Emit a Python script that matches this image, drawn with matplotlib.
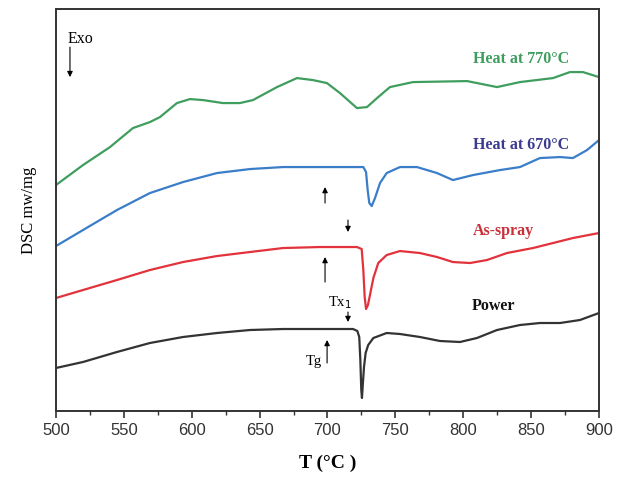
import numpy as np
import matplotlib.pyplot as plt
from matplotlib.ticker import MultipleLocator

# temperatures (°C) and DSC signal (arbitrary units, curves stacked) per sample
t_power = [500, 519.9, 544.9, 569.2, 593.6, 618.6, 642.9, 667.2, 694.5, 718.8,
           722, 723.4, 724.2, 724.9, 725.4, 726.1, 726.9, 728.1, 730, 733.8,
           743.6, 753.4, 768.1, 782.9, 797.6, 810.1, 824.9, 841.8, 856.5,
           871.3, 886, 900]
dsc_power = [43, 49, 59, 68, 74, 78, 81, 82, 82, 82,
             80, 74, 51, 21, 13, 28, 44, 58, 66, 73,
             78, 77, 74, 70, 69, 73, 81, 86, 88,
             88, 91, 98]

t_spray = [500, 519.9, 544.9, 569.2, 593.6, 618.6, 642.9, 667.2, 694.5, 721.7,
           725.2, 726.4, 727.4, 728.4, 729.8, 731.3, 733.8, 737.4, 743.6,
           753.4, 768.1, 780.7, 792.4, 805, 817.5, 832.2, 851.4, 866.1,
           880.8, 900]
dsc_spray = [113, 121, 131, 141, 149, 155, 159, 163, 164, 164,
             162, 141, 114, 102, 106, 116, 133, 148, 156,
             160, 158, 154, 149, 148, 151, 158, 163, 168,
             173, 178]

t_670 = [500, 519.9, 544.9, 569.2, 593.6, 618.6, 642.9, 667.2, 694.5, 726.4,
         728.4, 729.6, 730.8, 732.6, 735, 738.7, 743.6, 753.4, 765.9, 780.7,
         792.4, 807.2, 827.1, 841.8, 856.5, 871.3, 880.8, 891.2, 900]
dsc_670 = [165, 181, 201, 218, 229, 238, 242, 244, 244, 244,
           239, 221, 208, 205, 213, 228, 238, 244, 244, 238,
           231, 236, 241, 244, 253, 254, 253, 261, 271]

t_770 = [500, 519.9, 539.8, 556.7, 569.2, 576.6, 589.1, 598.7, 608.3, 623,
         635.5, 645.1, 662.8, 677.5, 689.3, 699.6, 709.2, 721.7, 729.1, 736.5,
         746, 763, 802.8, 824.9, 841.8, 866.1, 878.6, 888.2, 900]
dsc_770 = [226, 246, 264, 283, 289, 294, 308, 312, 311, 308,
           308, 311, 324, 333, 331, 328, 318, 303, 304, 313,
           324, 329, 330, 324, 329, 333, 339, 339, 334]

names = ['Power', 'As-spray', 'Heat at 670\u00b0C', 'Heat at 770\u00b0C']
line_colors = ['#333333', '#e2323c', '#3a7dc9', '#3f9d5e']
text_colors = ['#111111', '#c9303a', '#3b3b8f', '#3f9d5e']
label_pos = [(822.6, 105), (829.3, 180), (842.5, 266), (842.5, 352)]

serif = 'Liberation Serif'

fig = plt.figure(figsize=(6.22, 4.79), dpi=100)
ax = fig.add_axes([0.090, 0.142, 0.873, 0.839])

curves = [(t_power, dsc_power), (t_spray, dsc_spray), (t_670, dsc_670), (t_770, dsc_770)]
for (t, d), c in zip(curves, line_colors):
    ax.plot(t, d, color=c, lw=1.6, solid_joinstyle='round')

for name, c, (x, y) in zip(names, text_colors, label_pos):
    ax.text(x, y, name, color=c, fontsize=11.5, fontweight='bold', family=serif,
            ha='center', va='center')


# arrows marking Exo, Tg and Tx1
def arrow(x, y0, y1):
    ax.annotate('', xy=(x, y1), xytext=(x, y0),
                arrowprops=dict(arrowstyle='-|>', color='black', lw=0.8,
                                mutation_scale=8, shrinkA=0, shrinkB=0))


arrow(510.3, 364, 334)
arrow(698.2, 208, 224)
arrow(715.1, 191, 179)
arrow(698.2, 129, 154)
arrow(715.1, 99, 89)
arrow(699.7, 48, 71)

ax.text(508.5, 372, 'Exo', family=serif, fontsize=11.5, va='center', ha='left')
ax.text(709.2, 108, 'Tx$_1$', family=serif, fontsize=10.5, va='center', ha='center')
ax.text(690, 49, 'Tg', family=serif, fontsize=10.5, va='center', ha='center')

ax.set_xlim(500, 900)
ax.set_ylim(0, 402)
ax.set_yticks([])
ax.xaxis.set_major_locator(MultipleLocator(50))
ax.xaxis.set_minor_locator(MultipleLocator(25))
ax.tick_params(axis='x', which='major', length=5, width=1.2, color='#333333',
               labelsize=12, labelcolor='#333333')
ax.tick_params(axis='x', which='minor', length=3, width=1.0, color='#333333')
for lbl in ax.get_xticklabels():
    lbl.set_family('Liberation Sans')
for s in ax.spines.values():
    s.set_linewidth(1.4)
    s.set_color('#333333')

ax.set_xlabel('T (\u00b0C )', family=serif, fontsize=14, fontweight='bold', labelpad=12)
ax.set_ylabel('DSC mw/mg', family=serif, fontsize=12, labelpad=14)

plt.savefig('out.png', dpi=100)
